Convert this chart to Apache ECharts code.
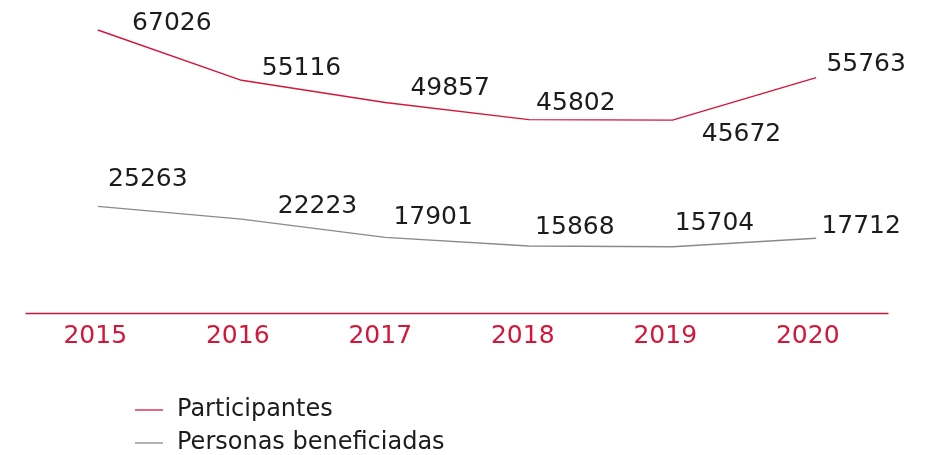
<!DOCTYPE html>
<html>
<head>
<meta charset="utf-8">
<script src="https://cdn.jsdelivr.net/npm/echarts@6/dist/echarts.min.js"></script>
<style>
html,body{margin:0;padding:0;background:#fff;}
#chart{width:935px;height:455px;}
</style>
</head>
<body>
<div id="chart"></div>
<script>
const years = ['2015', '2016', '2017', '2018', '2019', '2020'];
const participantes = [67026, 55116, 49857, 45802, 45672, 55763];
const beneficiadas = [25263, 22223, 17901, 15868, 15704, 17712];
const seriesNames = ['Participantes', 'Personas beneficiadas'];

const RED = '#d4163a';
const GRAY = '#8a8a8a';
const TEXT = '#1c1c1c';
const FONT = 'DejaVu Sans';

// label placement (style only)
const redOffsets = [[74, -7], [60, -12], [65, -14], [47, -16], [69, 14], [50, -13]];
const grayOffsets = [[50, -27], [76, -13], [48, -20], [46, -19], [42, -23], [45, -12]];

function mkData(vals, offs) {
  return vals.map((v, i) => ({
    value: v,
    label: { offset: offs[i] }
  }));
}

const legendText = { color: TEXT, fontFamily: FONT, fontSize: 24, padding: [0, 0, 0, 9] };

const chart = echarts.init(document.getElementById('chart'), null, { renderer: 'canvas' });
chart.setOption({
  animation: false,
  grid: [
    { left: 26, right: 47, top: 9, bottom: 142 },
    { left: 24, right: 56, top: 9, bottom: 142 }
  ],
  xAxis: [
    {
      type: 'category', gridIndex: 0,
      data: years,
      boundaryGap: true,
      axisLine: { show: true, lineStyle: { color: RED, width: 1.3 } },
      axisTick: { show: false },
      axisLabel: { show: false },
      splitLine: { show: false }
    },
    {
      type: 'category', gridIndex: 1,
      data: years,
      boundaryGap: true,
      axisLine: { show: false },
      axisTick: { show: false },
      axisLabel: { color: RED, fontFamily: FONT, fontSize: 25, margin: 11 },
      splitLine: { show: false }
    }
  ],
  yAxis: [
    { type: 'value', gridIndex: 0, min: 0, max: 72000, show: false },
    { type: 'value', gridIndex: 1, min: 0, max: 72000, show: false }
  ],
  legend: [
    {
      left: 130, top: 393,
      itemWidth: 28, itemHeight: 1.3,
      icon: 'rect',
      textStyle: legendText,
      data: [seriesNames[0]]
    },
    {
      left: 130, top: 426,
      itemWidth: 28, itemHeight: 1.3,
      icon: 'rect',
      textStyle: legendText,
      data: [seriesNames[1]]
    }
  ],
  series: [
    {
      name: seriesNames[0], type: 'line',
      xAxisIndex: 0, yAxisIndex: 0,
      data: mkData(participantes, redOffsets),
      symbol: 'circle', symbolSize: 0, showSymbol: true,
      lineStyle: { color: RED, width: 1.4 },
      itemStyle: { color: RED },
      label: { show: true, position: 'inside', color: TEXT, fontFamily: FONT, fontSize: 25 }
    },
    {
      name: seriesNames[1], type: 'line',
      xAxisIndex: 0, yAxisIndex: 0,
      data: mkData(beneficiadas, grayOffsets),
      symbol: 'circle', symbolSize: 0, showSymbol: true,
      lineStyle: { color: GRAY, width: 1.4 },
      itemStyle: { color: GRAY },
      label: { show: true, position: 'inside', color: TEXT, fontFamily: FONT, fontSize: 25 }
    }
  ]
});
</script>
</body>
</html>
